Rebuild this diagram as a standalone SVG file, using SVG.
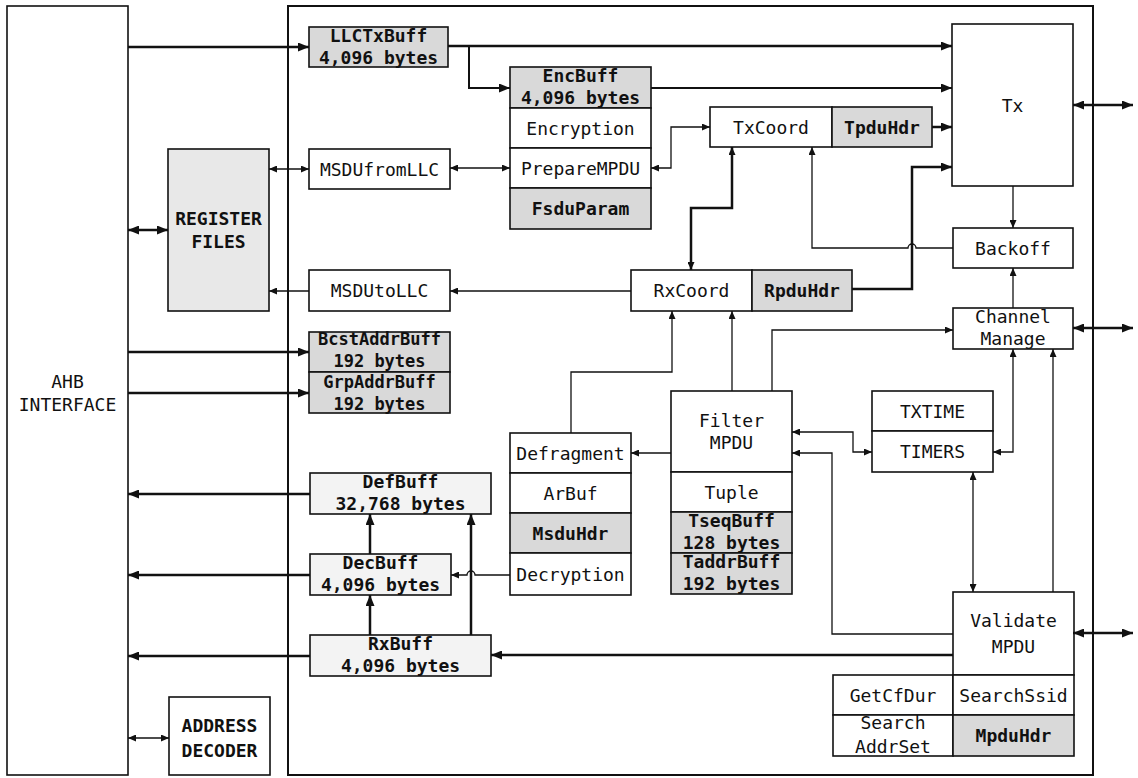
<svg xmlns="http://www.w3.org/2000/svg" width="1138" height="778" viewBox="0 0 1138 778">
<defs>
<style>
.b{fill:#fff;stroke:#111;stroke-width:1.6}
.g{fill:#d9d9d9;stroke:#111;stroke-width:1.6}
.lg{fill:#e8e8e8;stroke:#111;stroke-width:1.6}
.vl{fill:#f3f3f3;stroke:#111;stroke-width:1.6}
.frame{fill:none;stroke:#111;stroke-width:2}
text{font-family:"DejaVu Sans Mono","Liberation Mono",monospace;font-size:18px;fill:#111;text-anchor:middle}
.bd{font-weight:bold}
.sm{font-size:17px}
.thick{fill:none;stroke:#111;stroke-width:2.5}
.mid{fill:none;stroke:#111;stroke-width:2}
.thin{fill:none;stroke:#111;stroke-width:1.3}
</style>
<marker id="aT" markerUnits="userSpaceOnUse" markerWidth="11" markerHeight="9" refX="11" refY="4.5" orient="auto-start-reverse"><path d="M0,0 L11,4.5 L0,9 z" fill="#111"/></marker>
<marker id="aS" markerUnits="userSpaceOnUse" markerWidth="8" markerHeight="7" refX="8" refY="3.5" orient="auto-start-reverse"><path d="M0,0 L8,3.5 L0,7 z" fill="#111"/></marker>
</defs>

<g id="frame-main"><rect class="frame" x="288" y="6" width="805" height="769"/></g>

<g id="ahb"><rect class="b" x="7" y="6" width="121" height="769"/><text x="67.5" y="387.5">AHB</text><text x="67.5" y="410.5">INTERFACE</text></g>
<g id="regfiles"><rect class="lg" x="168" y="149" width="101" height="162"/><text class="bd" x="218.5" y="224.5">REGISTER</text><text class="bd" x="218.5" y="247.5">FILES</text></g>
<g id="addrdec"><rect class="b" x="169" y="697" width="101" height="78"/><text class="bd" x="219.5" y="731.5">ADDRESS</text><text class="bd" x="219.5" y="756.5">DECODER</text></g>

<g id="llctxbuff"><rect class="g" x="309" y="27" width="139" height="40"/><text class="bd" x="378.5" y="42">LLCTxBuff</text><text class="bd" x="378.5" y="64">4,096 bytes</text></g>
<g id="msdufromllc"><rect class="b" x="309" y="149" width="141" height="40"/><text x="379.5" y="175.5">MSDUfromLLC</text></g>
<g id="msdutollc"><rect class="b" x="309" y="270" width="141" height="41"/><text x="379.5" y="297">MSDUtoLLC</text></g>
<g id="bcstaddrbuff"><rect class="g" x="309" y="332" width="141" height="40"/><text class="bd sm" x="379.5" y="345">BcstAddrBuff</text><text class="bd sm" x="379.5" y="367">192 bytes</text></g>
<g id="grpaddrbuff"><rect class="g" x="309" y="372" width="141" height="41"/><text class="bd sm" x="379.5" y="388">GrpAddrBuff</text><text class="bd sm" x="379.5" y="410">192 bytes</text></g>
<g id="defbuff"><rect class="vl" x="310" y="473" width="181" height="41"/><text class="bd" x="400.5" y="488">DefBuff</text><text class="bd" x="400.5" y="510">32,768 bytes</text></g>
<g id="decbuff"><rect class="vl" x="310" y="554" width="141" height="41"/><text class="bd" x="380.5" y="569">DecBuff</text><text class="bd" x="380.5" y="591">4,096 bytes</text></g>
<g id="rxbuff"><rect class="vl" x="310" y="635" width="181" height="41"/><text class="bd" x="400.5" y="650">RxBuff</text><text class="bd" x="400.5" y="672">4,096 bytes</text></g>

<g id="encstack">
<rect class="g" x="510" y="67" width="141" height="41"/><text class="bd" x="580.5" y="82">EncBuff</text><text class="bd" x="580.5" y="104">4,096 bytes</text>
<rect class="b" x="510" y="108" width="141" height="40"/><text x="580.5" y="134.5">Encryption</text>
<rect class="b" x="510" y="148" width="141" height="40"/><text x="580.5" y="174.5">PrepareMPDU</text>
<rect class="g" x="510" y="188" width="141" height="41"/><text class="bd" x="580.5" y="215">FsduParam</text>
</g>

<g id="txcoord"><rect class="b" x="710" y="107" width="122" height="40"/><text x="771" y="133.5">TxCoord</text><rect class="g" x="832" y="107" width="100" height="40"/><text class="bd" x="882" y="133.5">TpduHdr</text></g>
<g id="rxcoord"><rect class="b" x="631" y="270" width="121" height="41"/><text x="691.5" y="297">RxCoord</text><rect class="g" x="752" y="270" width="100" height="41"/><text class="bd" x="802" y="297">RpduHdr</text></g>

<g id="tx"><rect class="b" x="952" y="24" width="121" height="162"/><text x="1012.5" y="112">Tx</text></g>
<g id="backoff"><rect class="b" x="953" y="228" width="120" height="40"/><text x="1013" y="254.5">Backoff</text></g>
<g id="channel"><rect class="b" x="953" y="308" width="120" height="41"/><text x="1013" y="323">Channel</text><text x="1013" y="345">Manage</text></g>

<g id="defragstack">
<rect class="b" x="510" y="433" width="121" height="40"/><text x="570.5" y="459.5">Defragment</text>
<rect class="b" x="510" y="473" width="121" height="40"/><text x="570.5" y="499.5">ArBuf</text>
<rect class="g" x="510" y="513" width="121" height="40"/><text class="bd" x="570.5" y="539.5">MsduHdr</text>
<rect class="b" x="510" y="553" width="121" height="42"/><text x="570.5" y="580.5">Decryption</text>
</g>

<g id="filterstack">
<rect class="b" x="671" y="391" width="121" height="81"/><text x="731.5" y="426.5">Filter</text><text x="731.5" y="448.5">MPDU</text>
<rect class="b" x="671" y="472" width="121" height="40"/><text x="731.5" y="498.5">Tuple</text>
<rect class="g" x="671" y="512" width="121" height="41"/><text class="bd" x="731.5" y="527">TseqBuff</text><text class="bd" x="731.5" y="549">128 bytes</text>
<rect class="g" x="671" y="553" width="121" height="41"/><text class="bd" x="731.5" y="568">TaddrBuff</text><text class="bd" x="731.5" y="590">192 bytes</text>
</g>

<g id="timers">
<rect class="b" x="872" y="391" width="121" height="40"/><text x="932.5" y="417.5">TXTIME</text>
<rect class="b" x="872" y="431" width="121" height="41"/><text x="932.5" y="458">TIMERS</text>
</g>

<g id="validate">
<rect class="b" x="953" y="592" width="121" height="83"/><text x="1013.5" y="626.5">Validate</text><text x="1013.5" y="652.5">MPDU</text>
<rect class="b" x="833" y="675" width="120" height="40"/><text x="893" y="701.5">GetCfDur</text>
<rect class="b" x="953" y="675" width="121" height="40"/><text x="1013.5" y="701.5">SearchSsid</text>
<rect class="b" x="833" y="715" width="120" height="41"/><text x="893" y="729">Search</text><text x="893" y="753">AddrSet</text>
<rect class="g" x="953" y="715" width="121" height="41"/><text class="bd" x="1013.5" y="742">MpduHdr</text>
</g>

<g id="connectors">
<path class="thick" d="M128,47 H309" marker-end="url(#aT)"/>
<path class="thick" d="M448,46 H952" marker-end="url(#aT)"/>
<path class="mid" d="M469,46 V88 H510" marker-end="url(#aT)"/>
<path class="mid" d="M651,88 H952" marker-end="url(#aT)"/>
<path class="thick" d="M932,127 H952" marker-end="url(#aT)"/>
<path class="thick" d="M852,289 H912 V167 H952" marker-end="url(#aT)"/>
<path class="thick" d="M1073,105 H1133" marker-start="url(#aT)" marker-end="url(#aT)"/>
<path class="thick" d="M1073,328 H1133" marker-start="url(#aT)" marker-end="url(#aT)"/>
<path class="thick" d="M1073,633 H1133" marker-start="url(#aT)" marker-end="url(#aT)"/>
<path class="thick" d="M732,147 V208 H691 V270" marker-start="url(#aS)" marker-end="url(#aS)"/>
<path class="thick" d="M953,655 H491" marker-end="url(#aT)"/>
<path class="thick" d="M370,554 V514" marker-end="url(#aT)"/>
<path class="thick" d="M370,635 V595" marker-end="url(#aT)"/>
<path class="thick" d="M471,635 V514" marker-end="url(#aT)"/>
<path class="thick" d="M310,494 H128" marker-end="url(#aT)"/>
<path class="thick" d="M310,575 H128" marker-end="url(#aT)"/>
<path class="thick" d="M310,656 H128" marker-end="url(#aT)"/>
<path class="thick" d="M128,352 H309" marker-end="url(#aT)"/>
<path class="thick" d="M128,393 H309" marker-end="url(#aT)"/>
<path class="thick" d="M128,230 H168" marker-start="url(#aT)" marker-end="url(#aT)"/>
<path class="thin" d="M269,169 H309" marker-start="url(#aS)" marker-end="url(#aS)"/>
<path class="thin" d="M450,168 H510" marker-start="url(#aS)" marker-end="url(#aS)"/>
<path class="thin" d="M651,168 H671 V127 H710" marker-start="url(#aS)" marker-end="url(#aS)"/>
<path class="thin" d="M309,291 H269" marker-end="url(#aS)"/>
<path class="thin" d="M631,291 H450" marker-end="url(#aS)"/>
<path class="thin" d="M953,248 H916 A4,4 0 0 0 908,248 H812 V147" marker-end="url(#aS)"/>
<path class="thin" d="M1013,186 V228" marker-end="url(#aS)"/>
<path class="thin" d="M1013,308 V268" marker-end="url(#aS)"/>
<path class="thin" d="M772,391 V330 H953" marker-end="url(#aS)"/>
<path class="thin" d="M993,452 H1013 V349" marker-start="url(#aS)" marker-end="url(#aS)"/>
<path class="thin" d="M1053,592 V349" marker-end="url(#aS)"/>
<path class="thin" d="M792,432 H853 V452 H872" marker-start="url(#aS)" marker-end="url(#aS)"/>
<path class="thin" d="M953,634 H832 V453 H792" marker-end="url(#aS)"/>
<path class="thin" d="M973,472 V592" marker-start="url(#aS)" marker-end="url(#aS)"/>
<path class="thin" d="M571,433 V372 H672 V311" marker-end="url(#aS)"/>
<path class="thin" d="M732,391 V311" marker-end="url(#aS)"/>
<path class="thin" d="M671,453 H631" marker-end="url(#aS)"/>
<path class="thin" d="M510,575 H475 A4,4 0 0 0 467,575 H451" marker-end="url(#aS)"/>
<path class="thin" d="M128,738 H169" marker-start="url(#aS)" marker-end="url(#aS)"/>
</g>
</svg>
